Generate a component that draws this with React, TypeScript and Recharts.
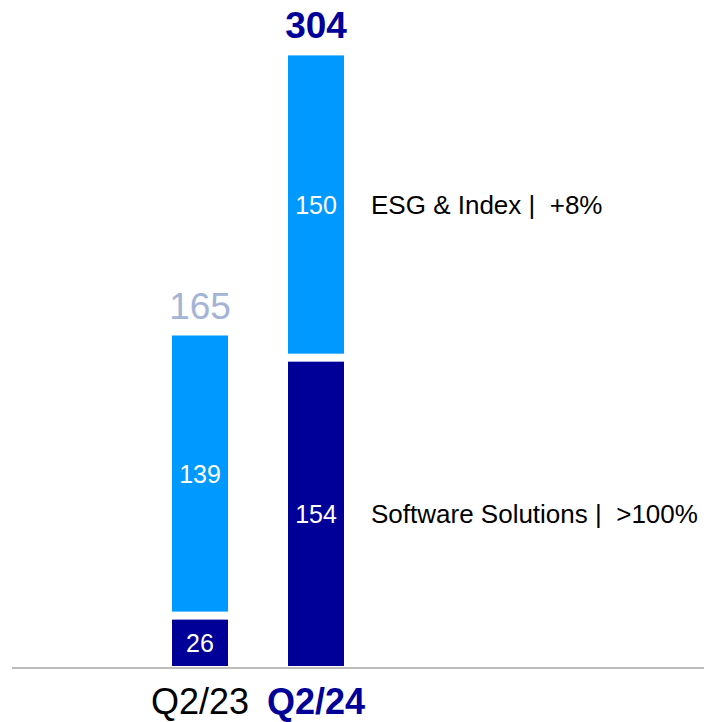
import React from 'react';
import { BarChart, Bar, XAxis, YAxis, LabelList } from 'recharts';

const categories = ['Q2/23', 'Q2/24'];
const softwareSolutions = [26, 154];
const esgIndex = [139, 150];
const seriesNames = ['Software Solutions', 'ESG & Index'];
const seriesChanges = ['>100%', '+8%'];

const NAVY = '#000099';
const LIGHT = '#0099ff';
const FONT = "Arial, 'Liberation Sans', sans-serif";

const data = categories.map((c, i) => ({
  category: c,
  software: softwareSolutions[i],
  esg: esgIndex[i],
  total: softwareSolutions[i] + esgIndex[i],
}));

const makeShape = (fill: string, trimTop: number, trimBottom: number) => (props: any) => {
  const { x, y, width, height } = props;
  return (
    <rect
      x={x}
      y={y + trimTop}
      width={width}
      height={Math.max(0, height - trimTop - trimBottom)}
      fill={fill}
    />
  );
};

const valueLabel = (trimTop: number, trimBottom: number) => (props: any) => {
  const { x, y, width, height, value } = props;
  const cy = y + trimTop + (height - trimTop - trimBottom) / 2;
  return (
    <text
      x={x + width / 2}
      y={cy}
      dy="0.36em"
      textAnchor="middle"
      fill="#ffffff"
      fontSize={25}
      fontFamily={FONT}
    >
      {value}
    </text>
  );
};

const sideLabel = (seriesIdx: number, trimTop: number, trimBottom: number) => (props: any) => {
  const { x, y, width, height, index } = props;
  if (index !== categories.length - 1) return null;
  const cy = y + trimTop + (height - trimTop - trimBottom) / 2;
  return (
    <text
      x={x + width + 27}
      y={cy}
      dy="0.36em"
      textAnchor="start"
      fill="#000000"
      fontSize={26}
      fontFamily={FONT}
      style={{ whiteSpace: 'pre' }}
    >
      {`${seriesNames[seriesIdx]} |  ${seriesChanges[seriesIdx]}`}
    </text>
  );
};

const totalLabel = (props: any) => {
  const { x, y, width, index } = props;
  const last = index === categories.length - 1;
  return (
    <text
      x={x + width / 2}
      y={y - 17}
      textAnchor="middle"
      fill={last ? NAVY : '#a3b4d6'}
      fontWeight={last ? 'bold' : 'normal'}
      fontSize={37}
      fontFamily={FONT}
    >
      {data[index].total}
    </text>
  );
};

const CategoryTick = (props: any) => {
  const { x, y, payload, index } = props;
  const last = index === categories.length - 1;
  return (
    <text
      x={x}
      y={y + 46}
      textAnchor="middle"
      fill={last ? NAVY : '#000000'}
      fontWeight={last ? 'bold' : 'normal'}
      fontSize={36}
      fontFamily={FONT}
    >
      {payload.value}
    </text>
  );
};

export default function App() {
  return (
    <div style={{ position: 'absolute', left: 0, top: 0, width: 704, height: 722, background: '#fff' }}>
      <BarChart
        width={704}
        height={722}
        data={data}
        margin={{ top: 3, right: 0, bottom: 0, left: 12 }}
        barSize={56}
      >
        <XAxis
          dataKey="category"
          height={54}
          interval={0}
          tickLine={false}
          tickSize={0}
          tickMargin={0}
          axisLine={{ stroke: '#a6a6a6', strokeWidth: 1.5 }}
          padding={{ left: 130, right: 330 }}
          tick={<CategoryTick />}
        />
        <YAxis hide domain={[0, 330]} />
        <Bar
          dataKey="software"
          stackId="a"
          isAnimationActive={false}
          shape={makeShape(NAVY, 4, 2)}
        >
          <LabelList dataKey="software" content={valueLabel(4, 2)} />
          <LabelList dataKey="software" content={sideLabel(0, 4, 2)} />
        </Bar>
        <Bar
          dataKey="esg"
          stackId="a"
          isAnimationActive={false}
          shape={makeShape(LIGHT, 0, 4)}
        >
          <LabelList dataKey="esg" content={valueLabel(0, 4)} />
          <LabelList dataKey="esg" content={sideLabel(1, 0, 4)} />
          <LabelList dataKey="total" content={totalLabel} />
        </Bar>
      </BarChart>
    </div>
  );
}
